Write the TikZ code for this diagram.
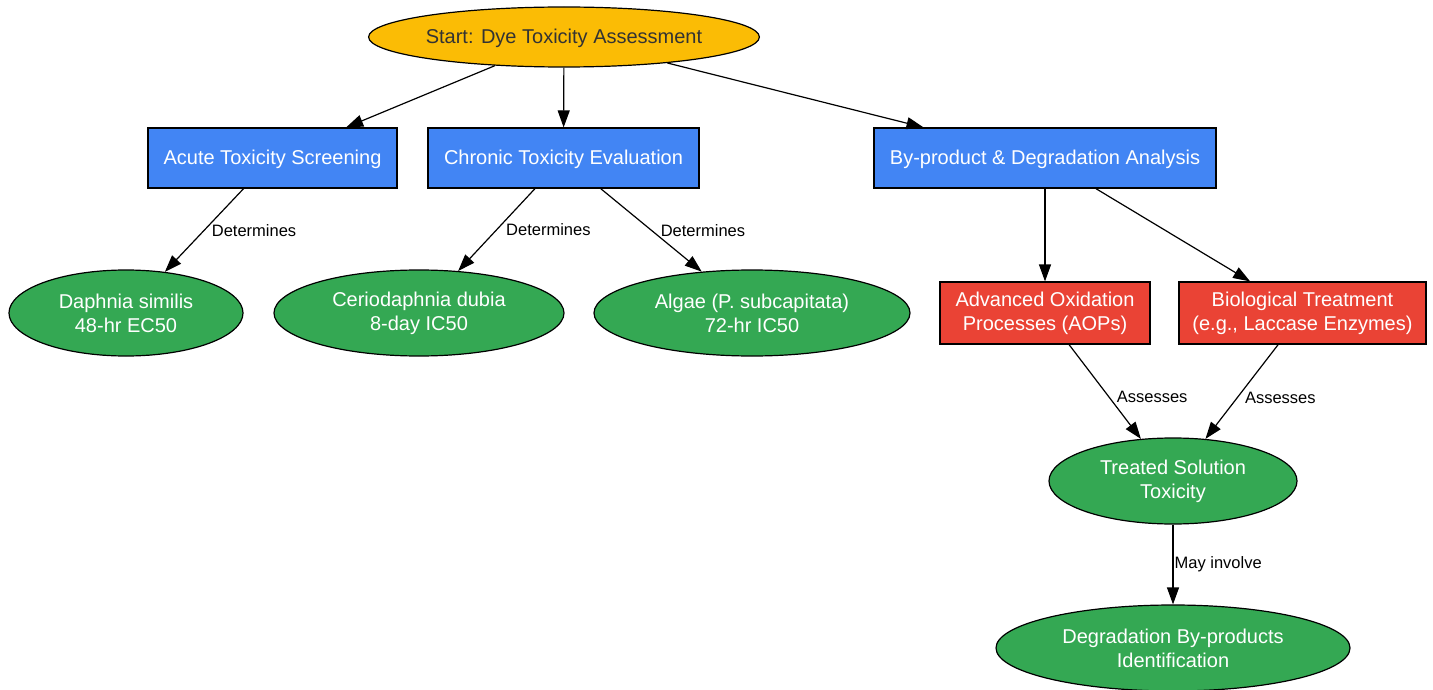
\documentclass[tikz,border=0pt]{standalone}
\usepackage{fontspec}
\setmainfont{Liberation Sans}
\usetikzlibrary{shapes.geometric, arrows.meta}

\definecolor{startgold}{HTML}{FBBC05}
\definecolor{stageblue}{HTML}{4285F4}
\definecolor{treatred}{HTML}{EA4335}
\definecolor{resultgreen}{HTML}{34A853}

\begin{document}
\begin{tikzpicture}[
    x=1pt, y=-1pt,
    startnode/.style={
        ellipse,
        draw=black,
        line width=1.2pt,
        fill=startgold,
        text=black!80,
        font=\fontsize{20}{24}\selectfont,
        inner sep=0pt,
        text depth=1pt,
        minimum width=386pt,
        minimum height=60pt
    },
    box/.style={
        rectangle,
        draw=black,
        line width=1.2pt,
        align=center,
        fill=stageblue,
        text=white,
        font=\fontsize{20}{24}\selectfont,
        inner sep=0pt,
        minimum height=60pt
    },
    redbox/.style={
        box,
        fill=treatred,
        minimum height=62pt
    },
    result/.style={
        ellipse,
        draw=black,
        line width=1.2pt,
        align=center,
        fill=resultgreen,
        text=white,
        font=\fontsize{20}{24}\selectfont,
        inner sep=0pt,
        minimum height=86pt
    },
    arrow/.style={
        -{Triangle[length=17pt, width=12pt]},
        line width=1.2pt
    },
    elabel/.style={
        anchor=west,
        inner sep=3pt,
        xshift=4pt,
        font=\fontsize{16.5}{19}\selectfont
    }
]
\useasboundingbox (0,0) rectangle (1433,690);

%% Start Node
\node[startnode] (start) at (564,37) {Start: Dye Toxicity Assessment};

%% Top Row Nodes
\node[box, minimum width=249pt, text depth=1pt] (acute) at (272.5,158) {Acute Toxicity Screening};
\node[box, minimum width=271pt, text depth=1pt] (chronic) at (563.5,158) {Chronic Toxicity Evaluation};
\node[box, minimum width=342pt, text depth=1pt] (byprod) at (1045,158) {By-product \& Degradation Analysis};

%% Middle Row Nodes
\node[result, minimum width=234pt] (daphnia) at (126,313) {Daphnia similis\\48-hr EC50};
\node[result, minimum width=290pt] (cerio) at (419,313) {Ceriodaphnia dubia\\8-day IC50};
\node[result, minimum width=316pt] (algae) at (752,313) {Algae (P. subcapitata)\\72-hr IC50};
\node[redbox, minimum width=210pt] (aop) at (1045,313) {Advanced Oxidation\\Processes (AOPs)};
\node[redbox, minimum width=247pt] (bio) at (1302.5,313) {Biological Treatment\\(e.g., Laccase Enzymes)};

%% Bottom Nodes
\node[result, minimum width=248pt] (treated) at (1173,481) {Treated Solution\\Toxicity};
\node[result, minimum width=354pt] (degr) at (1173,648) {Degradation By-products\\Identification};

%% Connections from Start
\draw[arrow] (start) -- (acute);
\draw[arrow] (start) -- (chronic);
\draw[arrow] (start) -- (byprod);

%% Toxicity Endpoints
\draw[arrow] (acute) -- node[elabel] {Determines} (daphnia);
\draw[arrow] (chronic) -- node[elabel, xshift=2pt] {Determines} (cerio);
\draw[arrow] (chronic) -- node[elabel, xshift=2pt] {Determines} (algae);

%% Treatment Branch
\draw[arrow] (byprod) -- (aop);
\draw[arrow] (byprod) -- (bio);
\draw[arrow] (aop) -- node[elabel, pos=0.56] {Assesses} (treated);
\draw[arrow] (bio) -- node[elabel, pos=0.56] {Assesses} (treated);
\draw[arrow] (treated) -- node[elabel, xshift=-6pt] {May involve} (degr);

\end{tikzpicture}
\end{document}
